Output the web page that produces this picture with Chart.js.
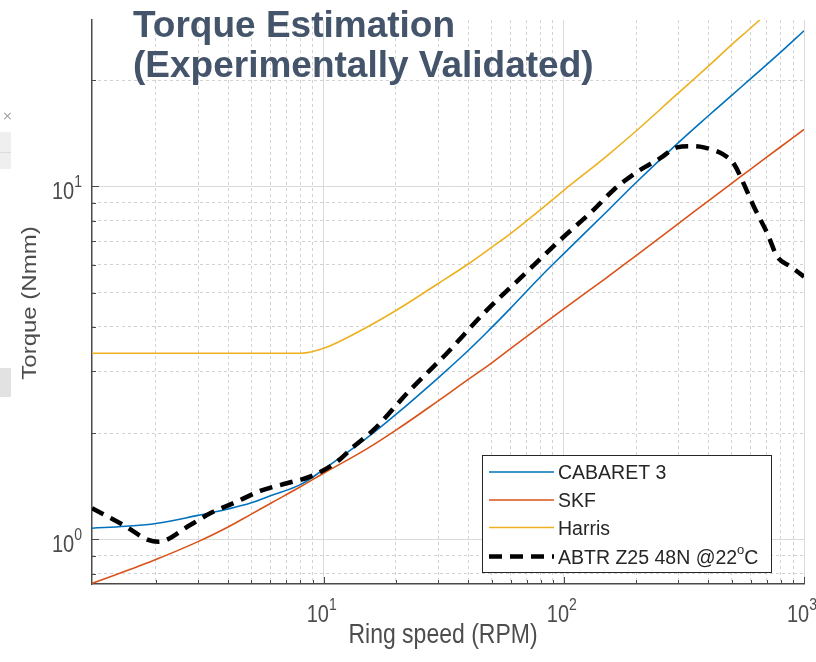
<!DOCTYPE html>
<html>
<head>
<meta charset="utf-8">
<script src="https://cdn.jsdelivr.net/npm/chart.js@4.4.0/dist/chart.umd.min.js"></script>
<style>
  html, body { margin: 0; padding: 0; background: #fff; }
  #wrap { position: relative; width: 816px; height: 662px; overflow: hidden; }
  #myChart { position: absolute; left: 0; top: 0; }
  #title { position: absolute; left: 133px; top: 5px; font: bold 37px "Liberation Sans", Arial, sans-serif;
           line-height: 40px; color: #44546a; white-space: nowrap; }
  .ui { position: absolute; left: 0; width: 11px; background: #efefef; }
  #closeX { position: absolute; left: 2px; top: 108px; font: 13px "DejaVu Sans", sans-serif; color: #a0a0a0; }
</style>
</head>
<body>
<div id="wrap">
  <canvas id="myChart" width="816" height="662"></canvas>
  <div id="title">Torque Estimation<br>(Experimentally Validated)</div>
  <div id="closeX">×</div>
  <div class="ui" style="top:132px;height:20px;border-bottom:1px solid #dcdcdc"></div>
  <div class="ui" style="top:153px;height:16px"></div>
  <div class="ui" style="top:368px;height:29px;background:#e2e2e2"></div>
</div>
<script>
// model curves, sampled on a common speed grid (RPM)
const speedModel = [1.085, 1.5, 2, 3, 4, 5, 6, 8, 10, 15, 20, 30, 40, 50, 60, 80, 100, 150, 200, 300, 400, 500, 600, 800, 1000];
const cabaret = [1.076, 1.09, 1.11, 1.17, 1.22, 1.27, 1.33, 1.43, 1.58, 1.93, 2.26, 2.87, 3.43, 3.98, 4.52, 5.55, 6.45, 8.45, 10.26, 13.3, 15.85, 18.1, 20.2, 24.0, 27.6];
const skf = [0.751, 0.814, 0.877, 0.986, 1.085, 1.18, 1.265, 1.41, 1.54, 1.8, 2.04, 2.47, 2.84, 3.16, 3.47, 4.02, 4.5, 5.5, 6.37, 7.85, 9.1, 10.2, 11.2, 12.95, 14.5];
const harris = [3.37, 3.37, 3.37, 3.37, 3.37, 3.37, 3.37, 3.37, 3.48, 3.98, 4.45, 5.31, 6.03, 6.72, 7.35, 8.59, 9.75, 12.15, 14.35, 18.4, 21.9, 25.2, 28.1, 33.5, 38.3];

// measured torque
const testSpeed = [1.085, 1.465, 1.86, 2.05, 2.78, 3.37, 4.35, 5.44, 7.03, 8.78, 11.35, 13.3, 16.1, 22.9, 32.6, 46.4, 65.9, 96.6, 133, 161, 202, 252, 296, 340, 382, 463, 510, 553, 618, 703, 773, 879, 1000];
const testTorque = [1.226, 1.099, 0.997, 0.985, 1.099, 1.186, 1.28, 1.372, 1.443, 1.506, 1.66, 1.83, 2.04, 2.65, 3.37, 4.37, 5.5, 7.05, 8.58, 9.77, 11.0, 12.02, 12.9, 13.0, 12.9, 12.3, 11.6, 10.4, 8.77, 7.37, 6.33, 5.93, 5.55];

const seriesLabels = ['CABARET 3', 'SKF', 'Harris', 'ABTR Z25 48N @22^oC'];
const xTickValues = [10, 100, 1000];
const yTickValues = [1, 10];
const xTitle = 'Ring speed (RPM)';
const yTitle = 'Torque (Nmm)';

const xMin = 1.085, xMax = 1000;
const yMin = 0.748, yMax = 29.6;

const axisColor = '#4a4a4a';
const FONT = '"Liberation Sans", Arial, sans-serif';
const STRETCH = 1.2; // the original figure is squeezed a bit horizontally

// 1..9 x 10^n ticks, either the decades or the ones in between
function logTicks(min, max, decades) {
    const out = [];
    for (let e = Math.floor(Math.log10(min)); e <= Math.ceil(Math.log10(max)); e++) {
        for (let m = 1; m <= 9; m++) {
            const v = m * Math.pow(10, e);
            if (v < min * 0.9999 || v > max * 1.0001) continue;
            if ((m === 1) === decades) out.push({ value: v });
        }
    }
    return out;
}

function parseRich(text) {
    const parts = [];
    for (let i = 0; i < text.length; i++) {
        if (text[i] === '^' && i + 1 < text.length) {
            parts.push({ t: text[i + 1], sup: true });
            i++;
        } else if (parts.length && !parts[parts.length - 1].sup) {
            parts[parts.length - 1].t += text[i];
        } else {
            parts.push({ t: text[i], sup: false });
        }
    }
    return parts;
}

// draws text with ^x superscripts; origin is the baseline point
function drawRich(ctx, text, x, y, size, align, stretch, rotate) {
    const parts = parseRich(text);
    const supSize = Math.round(size * 0.68);
    let w = 0;
    parts.forEach(p => {
        ctx.font = (p.sup ? supSize : size) + 'px ' + FONT;
        p.w = ctx.measureText(p.t).width;
        w += p.w;
    });
    ctx.save();
    ctx.translate(x, y);
    if (rotate) ctx.rotate(rotate);
    ctx.scale(rotate ? stretch : 1, rotate ? 1 : stretch);
    let cx = align === 'center' ? -w / 2 : align === 'right' ? -w : 0;
    ctx.textBaseline = 'alphabetic';
    ctx.textAlign = 'left';
    parts.forEach(p => {
        ctx.font = (p.sup ? supSize : size) + 'px ' + FONT;
        ctx.fillText(p.t, cx, p.sup ? -size * 0.5 : 0);
        cx += p.w;
    });
    ctx.restore();
}

const matlabAxes = {
    id: 'matlabAxes',
    afterDraw(chart) {
        const { ctx, chartArea: a, scales } = chart;
        ctx.save();
        ctx.strokeStyle = axisColor;
        ctx.lineWidth = 1;
        [['x', 7], ['xMinor', 4]].forEach(([id, len]) => {
            scales[id].ticks.forEach(t => {
                const px = Math.round(scales[id].getPixelForValue(t.value)) + 0.5;
                ctx.beginPath(); ctx.moveTo(px, a.bottom); ctx.lineTo(px, a.bottom - len); ctx.stroke();
            });
        });
        [['y', 7], ['yMinor', 4]].forEach(([id, len]) => {
            scales[id].ticks.forEach(t => {
                const py = Math.round(scales[id].getPixelForValue(t.value)) + 0.5;
                ctx.beginPath(); ctx.moveTo(a.left, py); ctx.lineTo(a.left + len, py); ctx.stroke();
            });
        });

        ctx.fillStyle = '#4d4d4d';
        xTickValues.forEach(v => {
            const px = scales.x.getPixelForValue(v);
            drawRich(ctx, '10^' + Math.round(Math.log10(v)), px - 2, a.bottom + 38, 20, 'center', STRETCH);
        });
        yTickValues.forEach(v => {
            const py = scales.y.getPixelForValue(v);
            drawRich(ctx, '10^' + Math.round(Math.log10(v)), a.left - 10, py + 12.5, 20, 'right', STRETCH);
        });
        drawRich(ctx, xTitle, (a.left + a.right) / 2 - 5, a.bottom + 59, 23, 'center', STRETCH);
        drawRich(ctx, yTitle, 36, 303, 20, 'center', STRETCH, -Math.PI / 2);

        // legend box in the lower right
        const box = { l: 482, t: 455, r: 772, b: 573 };
        ctx.fillStyle = '#fff';
        ctx.fillRect(box.l, box.t, box.r - box.l, box.b - box.t);
        ctx.strokeStyle = '#262626';
        ctx.lineWidth = 1;
        ctx.strokeRect(box.l + 0.5, box.t + 0.5, box.r - box.l - 1, box.b - box.t - 1);
        const rows = [472, 500, 527.5, 556.5];
        chart.data.datasets.forEach((ds, i) => {
            const ry = rows[i];
            ctx.save();
            ctx.strokeStyle = ds.borderColor;
            ctx.lineWidth = ds.borderWidth;
            ctx.setLineDash(ds.borderDash || []);
            ctx.beginPath(); ctx.moveTo(489, ry); ctx.lineTo(554, ry); ctx.stroke();
            ctx.restore();
            ctx.fillStyle = '#262626';
            drawRich(ctx, ds.label, 558, ry + 7, 19.5, 'left', 1);
        });
        ctx.restore();
    }
};

const toPoints = (xs, ys) => xs.map((x, i) => ({ x: x, y: ys[i] }));

const gridScale = (axis, min, max, decades) => ({
    type: 'logarithmic',
    axis: axis,
    position: axis === 'x' ? 'bottom' : 'left',
    min: min,
    max: max,
    bounds: 'data',
    afterBuildTicks: s => { s.ticks = logTicks(min, max, decades); },
    ticks: { display: false },
    grid: { color: decades ? '#dadada' : '#d2d2d2', lineWidth: 1, drawTicks: false },
    border: decades ? { display: true, color: axisColor, width: 1.5 } : { display: false, dash: [3, 3] }
});

const ctx = document.getElementById('myChart').getContext('2d');
const myChart = new Chart(ctx, {
    type: 'line',
    data: {
        datasets: [
            { label: seriesLabels[0], data: toPoints(speedModel, cabaret), borderColor: '#0072BD', borderWidth: 1.6,
              tension: 0.4, order: 3 },
            { label: seriesLabels[1], data: toPoints(speedModel, skf), borderColor: '#D95319', borderWidth: 1.6,
              tension: 0.4, order: 2 },
            { label: seriesLabels[2], data: toPoints(speedModel, harris), borderColor: '#EDB120', borderWidth: 1.6,
              cubicInterpolationMode: 'monotone', order: 1 },
            { label: seriesLabels[3], data: toPoints(testSpeed, testTorque), borderColor: '#000000', borderWidth: 4.5,
              borderDash: [13, 8], borderCapStyle: 'butt', cubicInterpolationMode: 'monotone', order: 0 }
        ]
    },
    options: {
        responsive: false,
        animation: false,
        events: [],
        layout: { padding: { left: 92, top: 20, right: 12, bottom: 78 } },
        elements: {
            point: { radius: 0 },
            line: { fill: false }
        },
        scales: {
            x: gridScale('x', xMin, xMax, true),
            xMinor: gridScale('x', xMin, xMax, false),
            y: gridScale('y', yMin, yMax, true),
            yMinor: gridScale('y', yMin, yMax, false)
        },
        plugins: {
            legend: { display: false },
            tooltip: { enabled: false }
        }
    },
    plugins: [matlabAxes]
});
</script>
</body>
</html>
